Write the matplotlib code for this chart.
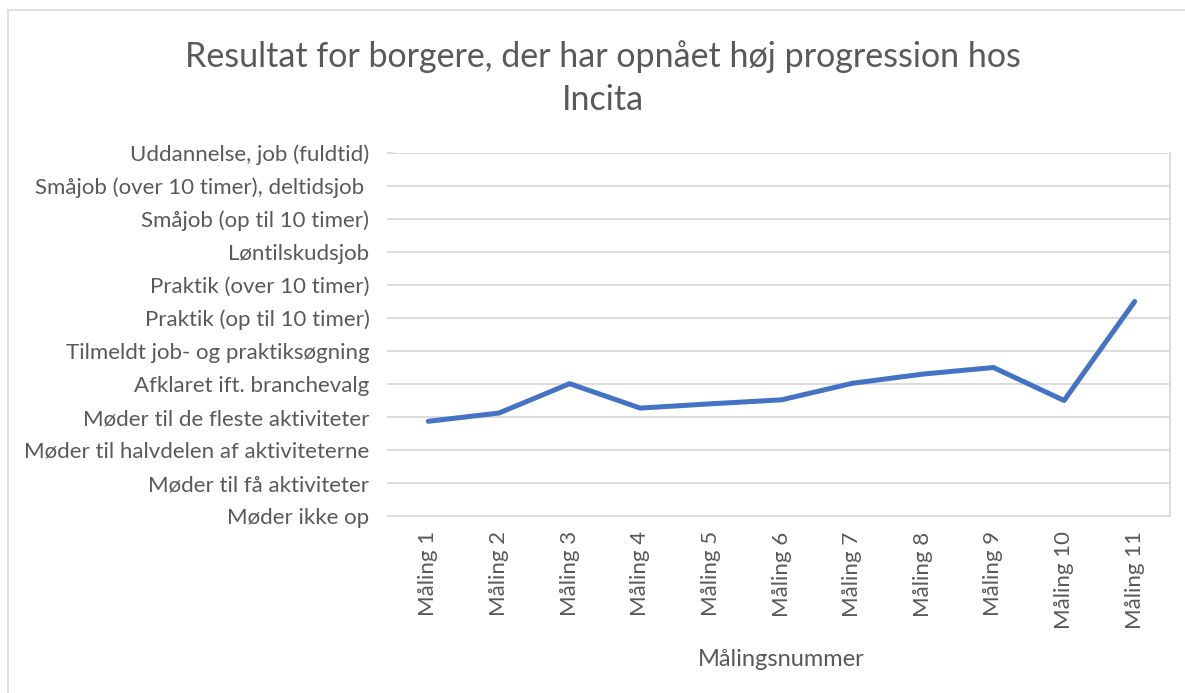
# plot.py
# Line chart of progression level per measurement (Incita).

import numpy as np
import matplotlib.pyplot as plt
from matplotlib.patches import Rectangle

plt.rcParams["font.family"] = ["Lato", "DejaVu Sans"]

# y-axis categories, lowest level first
levels = [
    "Møder ikke op",
    "Møder til få aktiviteter",
    "Møder til halvdelen af aktiviteterne",
    "Møder til de fleste aktiviteter",
    "Afklaret ift. branchevalg",
    "Tilmeldt job- og praktiksøgning",
    "Praktik (op til 10 timer)",
    "Praktik (over 10 timer)",
    "Løntilskudsjob",
    "Småjob (op til 10 timer)",
    "Småjob (over 10 timer), deltidsjob ",
    "Uddannelse, job (fuldtid)",
]

maalinger = [f"Måling {i}" for i in range(1, 12)]
niveau = [2.87, 3.12, 4.01, 3.27, 3.40, 3.52, 4.02, 4.30, 4.50, 3.50, 6.50]

TEXT = "#595959"
GRID = "#D9D9D9"
BLUE = "#4472C4"

fig = plt.figure(figsize=(11.85, 6.93), dpi=100)

# chart area border
fig.patches.append(Rectangle((8 / 1185, -0.01), 1.2, 1 - 10 / 693 + 0.01,
                             transform=fig.transFigure, fill=False,
                             edgecolor=GRID, linewidth=1.2))

ax = fig.add_axes([393 / 1185, 1 - 516 / 693, 777 / 1185, 363 / 693])

x = np.arange(1, len(maalinger) + 1)
ax.plot(x, niveau, color=BLUE, linewidth=3.6, solid_capstyle="round",
        solid_joinstyle="round", zorder=3)

ax.set_xlim(0.5, len(maalinger) + 0.5)
ax.set_ylim(0, len(levels) - 1)

ax.set_yticks(range(len(levels)))
ax.set_yticklabels(levels, fontsize=16, color=TEXT)
ax.set_xticks(x)
ax.set_xticklabels(maalinger, rotation=90, fontsize=16, color=TEXT)

ax.grid(axis="y", color=GRID, linewidth=1.3)
ax.set_axisbelow(True)
ax.tick_params(axis="y", length=4, color=GRID, width=1.3, pad=13)
ax.tick_params(axis="x", length=0, pad=11)

for s in ["top", "left"]:
    ax.spines[s].set_visible(False)
ax.spines["right"].set_color(GRID)
ax.spines["right"].set_linewidth(1.3)
ax.spines["bottom"].set_color(GRID)
ax.spines["bottom"].set_linewidth(1.3)

ax.set_xlabel("Målingsnummer", fontsize=17, color=TEXT, labelpad=14)

fig.text(603 / 1185, 1 - 78 / 693,
         "Resultat for borgere, der har opnået høj progression hos\nIncita",
         ha="center", va="center", fontsize=24.5, color=TEXT,
         linespacing=1.45)

fig.savefig("out.png", dpi=100)
